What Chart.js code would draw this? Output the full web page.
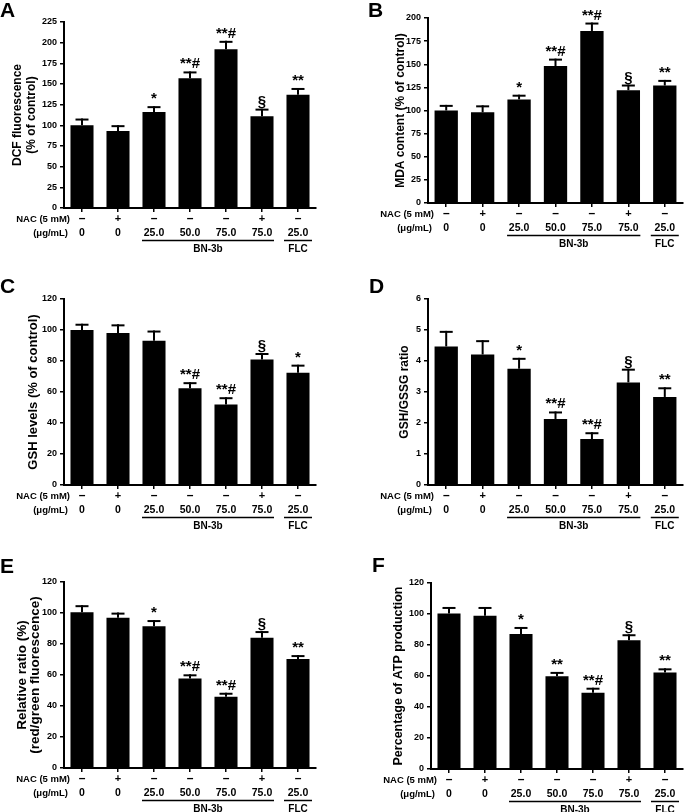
<!DOCTYPE html>
<html><head><meta charset="utf-8">
<script src="https://cdn.jsdelivr.net/npm/chart.js@4.4.1/dist/chart.umd.min.js"></script>
<style>
html,body{margin:0;padding:0;background:#fff;}
#wrap{position:relative;width:685px;height:812px;overflow:hidden;background:#fff;}
canvas{position:absolute;}
</style></head><body>
<div id="wrap"></div>
<script>
// ---------- data ----------
const categories = ['Control', 'NAC', 'BN-3b 25.0', 'BN-3b 50.0', 'BN-3b 75.0', 'NAC + BN-3b 75.0', 'FLC 25.0'];
const nacRow  = ['–', '+', '–', '–', '–', '+', '–'];
const doseRow = ['0', '0', '25.0', '50.0', '75.0', '75.0', '25.0'];
const groupLabels = [{ text: 'BN-3b', from: 2, to: 5 }, { text: 'FLC', from: 6, to: 6 }];

// A: DCF fluorescence
const dcfMean  = [100, 93, 116, 157, 192, 111, 137];
const dcfSem   = [7, 6, 6, 7, 9, 8, 7];
const dcfMarks = ['', '', '*', '**#', '**#', '§', '**'];
const dcfAxis  = [0, 225, 25];
// B: MDA content
const mdaMean  = [100, 98, 112, 148, 186, 122, 127];
const mdaSem   = [5, 6.5, 4, 7, 8, 5, 5];
const mdaMarks = ['', '', '*', '**#', '**#', '§', '**'];
const mdaAxis  = [0, 200, 25];
// C: GSH levels
const gshMean  = [100, 98, 93, 62.5, 52, 81, 72.5];
const gshSem   = [3.4, 5, 6, 3.2, 4, 3.5, 4.5];
const gshMarks = ['', '', '', '**#', '**#', '§', '*'];
const gshAxis  = [0, 120, 20];
// D: GSH/GSSG ratio
const ratioMean  = [4.47, 4.21, 3.75, 2.13, 1.48, 3.31, 2.84];
const ratioSem   = [0.47, 0.43, 0.32, 0.21, 0.19, 0.41, 0.28];
const ratioMarks = ['', '', '*', '**#', '**#', '§', '**'];
const ratioAxis  = [0, 6, 1];
// E: relative red/green fluorescence
const mmpMean  = [100.5, 96.9, 91.5, 57.8, 45.9, 84, 70.4];
const mmpSem   = [3.9, 2.7, 3.3, 2, 2, 3.7, 1.8];
const mmpMarks = ['', '', '*', '**#', '**#', '§', '**'];
const mmpAxis  = [0, 120, 20];
// F: ATP production
const atpMean  = [100.4, 98.9, 87.1, 59.8, 49.2, 83.1, 62.3];
const atpSem   = [3.5, 5, 3.9, 2.2, 2.6, 3.2, 2];
const atpMarks = ['', '', '*', '**', '**#', '§', '**'];
const atpAxis  = [0, 120, 20];

// ---------- layout ----------
const FONT = '"Liberation Sans", Arial, Helvetica, sans-serif';
const panels = [
  { letter: 'A', lx: 0,  ly: 17, x0: 0,   y0: 0,   w: 340, h: 270, left: 64, right: 316, top: 22, bottom: 208,
    title: ['DCF fluorescence', '(% of control)'], tx: [18, 32], tfs: 12, mean: dcfMean, sem: dcfSem, marks: dcfMarks, axis: dcfAxis },
  { letter: 'B', lx: 28, ly: 17, x0: 340, y0: 0,   w: 345, h: 270, left: 88, right: 343, top: 18, bottom: 203,
    title: ['MDA content (% of control)'], tx: [61], tfs: 12, mean: mdaMean, sem: mdaSem, marks: mdaMarks, axis: mdaAxis },
  { letter: 'C', lx: 0,  ly: 23, x0: 0,   y0: 270, w: 340, h: 270, left: 64, right: 316, top: 29, bottom: 215,
    title: ['GSH levels (% of control)'], tx: [33], tfs: 13, mean: gshMean, sem: gshSem, marks: gshMarks, axis: gshAxis },
  { letter: 'D', lx: 29, ly: 23, x0: 340, y0: 270, w: 345, h: 270, left: 88, right: 343, top: 29, bottom: 215,
    title: ['GSH/GSSG ratio'], tx: [65], tfs: 12, mean: ratioMean, sem: ratioSem, marks: ratioMarks, axis: ratioAxis },
  { letter: 'E', lx: 0,  ly: 33, x0: 0,   y0: 540, w: 340, h: 272, left: 64, right: 316, top: 42, bottom: 228,
    title: ['Relative ratio (%)', '(red/green fluorescence)'], tx: [22, 35], tfs: 13.5, mean: mmpMean, sem: mmpSem, marks: mmpMarks, axis: mmpAxis },
  { letter: 'F', lx: 32, ly: 32, x0: 340, y0: 540, w: 345, h: 272, left: 91, right: 343, top: 43, bottom: 229,
    title: ['Percentage of ATP production'], tx: [59], tfs: 12.5, mean: atpMean, sem: atpSem, marks: atpMarks, axis: atpAxis }
];

const wrap = document.getElementById('wrap');

function makeChart(p) {
  const c = document.createElement('canvas');
  c.width = p.w; c.height = p.h;
  c.style.left = p.x0 + 'px'; c.style.top = p.y0 + 'px';
  c.style.width = p.w + 'px'; c.style.height = p.h + 'px';
  wrap.appendChild(c);

  const overlay = {
    id: 'overlay' + p.letter,
    afterDatasetsDraw(chart) {
      const { ctx, chartArea: a, scales: { x, y } } = chart;
      ctx.save();
      ctx.fillStyle = '#000'; ctx.strokeStyle = '#000';
      // error bars + significance marks
      p.mean.forEach((m, i) => {
        const cx = x.getPixelForValue(i);
        const yt = y.getPixelForValue(m);
        const ye = y.getPixelForValue(m + p.sem[i]);
        ctx.lineWidth = 2; ctx.lineCap = 'butt';
        ctx.beginPath(); ctx.moveTo(cx, yt); ctx.lineTo(cx, ye - 1); ctx.stroke();
        ctx.beginPath(); ctx.moveTo(cx - 6.5, ye); ctx.lineTo(cx + 6.5, ye); ctx.stroke();
        if (p.marks[i]) {
          ctx.font = 'bold 15px ' + FONT; ctx.textAlign = 'center'; ctx.textBaseline = 'alphabetic';
          ctx.fillText(p.marks[i], cx, ye - 4);
        }
      });
      // panel letter
      ctx.font = 'bold 21px ' + FONT; ctx.textAlign = 'left'; ctx.textBaseline = 'alphabetic';
      ctx.fillText(p.letter, p.lx, p.ly);
      // y title
      ctx.font = 'bold ' + p.tfs + 'px ' + FONT; ctx.textAlign = 'center'; ctx.textBaseline = 'middle';
      p.title.forEach((t, k) => {
        ctx.save();
        ctx.translate(p.tx[k], (a.top + a.bottom) / 2);
        ctx.rotate(-Math.PI / 2);
        ctx.fillText(t, 0, 0);
        ctx.restore();
      });
      // treatment rows
      const nacY = a.bottom + 11, doseY = a.bottom + 25, lineY = a.bottom + 32.5, grpY = a.bottom + 41.5;
      ctx.textBaseline = 'middle';
      ctx.font = 'bold 9.5px ' + FONT; ctx.textAlign = 'right';
      ctx.fillText('NAC (5 mM)', a.left + 6, nacY);
      ctx.fillText('(μg/mL)', a.left + 4, doseY);
      ctx.textAlign = 'center';
      nacRow.forEach((s, i) => {
        ctx.font = (s === '+' ? 'bold 11px ' : 'bold 12px ') + FONT;
        ctx.fillText(s, x.getPixelForValue(i), nacY);
      });
      ctx.font = 'bold 10.5px ' + FONT;
      doseRow.forEach((s, i) => ctx.fillText(s, x.getPixelForValue(i), doseY));
      groupLabels.forEach(g => {
        const ext = g.from === g.to ? 14 : 12;
        const x1 = x.getPixelForValue(g.from) - ext, x2 = x.getPixelForValue(g.to) + ext;
        ctx.lineWidth = 1.5;
        ctx.beginPath(); ctx.moveTo(x1, lineY); ctx.lineTo(x2, lineY); ctx.stroke();
        ctx.font = 'bold 10px ' + FONT;
        ctx.fillText(g.text, (x1 + x2) / 2, grpY);
      });
      ctx.restore();
    }
  };

  return new Chart(c, {
    type: 'bar',
    data: {
      labels: categories,
      datasets: [{ data: p.mean, backgroundColor: '#000', borderColor: '#000', borderWidth: 0,
                   barPercentage: 0.64, categoryPercentage: 1 }]
    },
    options: {
      responsive: false, animation: false, devicePixelRatio: 1,
      layout: { padding: { left: 0, top: p.top, right: p.w - p.right, bottom: 0 } },
      plugins: { legend: { display: false }, tooltip: { enabled: false } },
      scales: {
        x: {
          grid: { display: true, drawOnChartArea: false, drawTicks: true, tickLength: 4, offset: false, color: '#000', lineWidth: 1.5 },
          border: { display: true, color: '#000', width: 2 },
          ticks: { display: true, callback: () => '', padding: 0 },
          afterFit(s) { s.height = p.h - p.bottom; }
        },
        y: {
          min: p.axis[0], max: p.axis[1],
          ticks: { stepSize: p.axis[2], color: '#000', padding: 3, font: { family: FONT, size: 9, weight: 'bold' } },
          grid: { display: true, drawOnChartArea: false, drawTicks: true, tickLength: 4, color: '#000', lineWidth: 1.5 },
          border: { display: true, color: '#000', width: 2 },
          afterFit(s) { s.width = p.left; }
        }
      }
    },
    plugins: [overlay]
  });
}

panels.forEach(makeChart);
</script>
</body></html>
